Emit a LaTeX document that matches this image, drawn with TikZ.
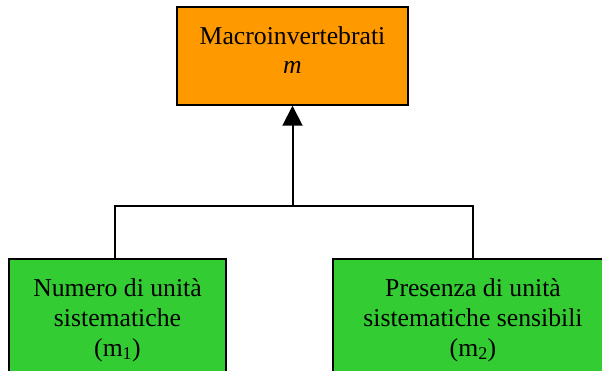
\documentclass[tikz,border=0pt]{standalone}
\usepackage{fontspec}
\setmainfont{Liberation Serif}
\usetikzlibrary{arrows.meta}
\definecolor{boxorange}{RGB}{255,153,0}
\definecolor{boxgreen}{RGB}{51,204,51}
\begin{document}
\begin{tikzpicture}[x=1pt,y=-1pt,
  boxstyle/.style={draw=black,line width=1.5pt,inner sep=0pt,rectangle},
  txt/.style={font=\fontsize{25.7}{29.8}\selectfont,align=center,inner sep=0pt},
  conn/.style={line width=1.3pt},
  ]
\useasboundingbox (0,0) rectangle (602,371);
\clip (0,0) rectangle (602,371);
\node[boxstyle,fill=boxorange,minimum width=231pt,minimum height=98pt] (top) at (292.5,56) {};
\node[txt] (toptext) at (292.5,50) {Macroinvertebrati\\\textit{m}};
\node[boxstyle,fill=boxgreen,minimum width=217pt,minimum height=125pt] (left) at (117.5,321.5) {};
\node[txt] (lefttext) at (117.5,320) {Numero di unità\\sistematiche\\(m\textsubscript{1})};
\node[boxstyle,fill=boxgreen,minimum width=280pt,minimum height=125pt] (right) at (473,321.5) {};
\node[txt] (righttext) at (473,320) {Presenza di unità\\sistematiche sensibili\\(m\textsubscript{2})};
\coordinate (j) at (292.5,206);
\coordinate (lj) at (115,206);
\coordinate (rj) at (473,206);
\draw[conn] ([xshift=-2.5pt]left.north) -- (lj) -- (rj) -- (right.north);
\draw[line width=2pt,-{Triangle[width=20pt,length=20pt]}] (j) -- (top.south);
\end{tikzpicture}
\end{document}
